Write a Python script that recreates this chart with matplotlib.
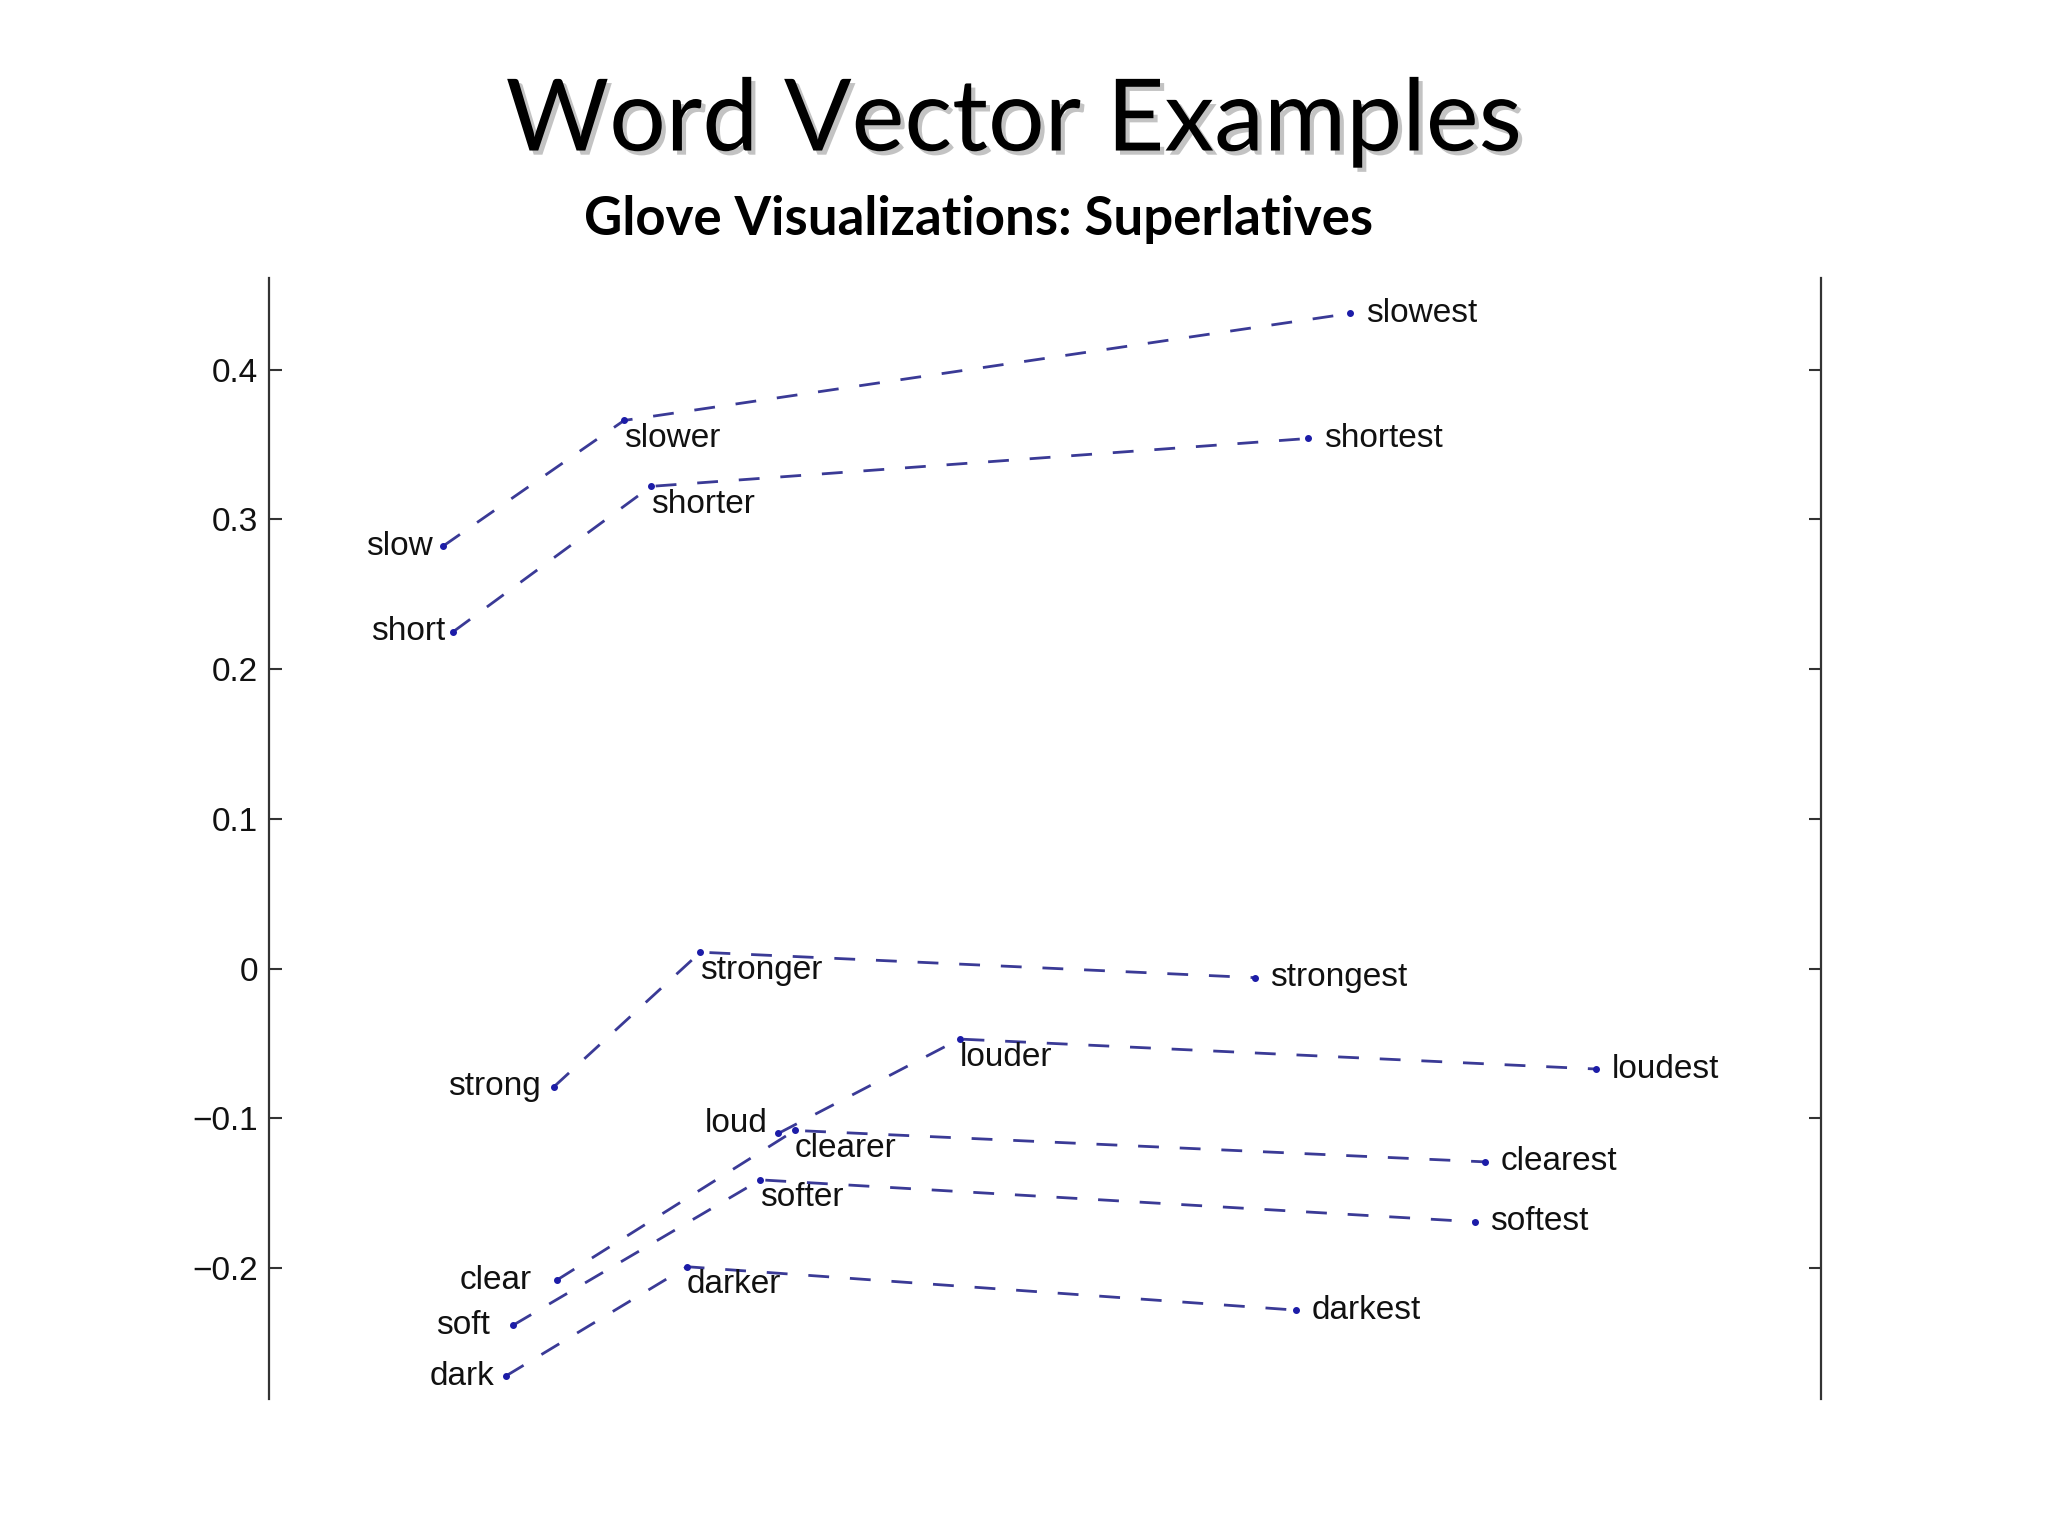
import matplotlib
matplotlib.use("Agg")
import matplotlib.pyplot as plt
import matplotlib.patheffects as pe

# ---- data ----
base_words = ["slow", "short", "strong", "loud", "clear", "soft", "dark"]
comp_words = ["slower", "shorter", "stronger", "louder", "clearer", "softer", "darker"]
sup_words = ["slowest", "shortest", "strongest", "loudest", "clearest", "softest", "darkest"]

base_x = [-0.384, -0.377, -0.310, -0.160, -0.308, -0.337, -0.342]
base_y = [0.282, 0.225, -0.079, -0.110, -0.208, -0.238, -0.272]
comp_x = [-0.263, -0.245, -0.212, -0.039, -0.149, -0.172, -0.221]
comp_y = [0.366, 0.322, 0.011, -0.047, -0.108, -0.141, -0.199]
sup_x = [0.222, 0.194, 0.158, 0.386, 0.312, 0.305, 0.186]
sup_y = [0.4375, 0.354, -0.006, -0.067, -0.129, -0.169, -0.228]

yticks = [-0.2, -0.1, 0, 0.1, 0.2, 0.3, 0.4]
ytick_labels = ["\u22120.2", "\u22120.1", "0", "0.1", "0.2", "0.3", "0.4"]

title = "Word Vector Examples"
subtitle = "Glove Visualizations: Superlatives"

# ---- layout (label offsets in points) ----
base_offsets = {"slow": (-7.5, 0), "short": (-5.5, 0), "strong": (-9, 0),
                "loud": (-8, 7), "clear": (-18, 0), "soft": (-17, 0), "dark": (-8.5, 0)}
comp_offset = (0, -13)
sup_offset = (11, 0)

line_color = "#3a3a96"
dot_color = "#1c1ca8"
label_font = ["Liberation Sans", "DejaVu Sans"]
label_size = 24

fig = plt.figure(figsize=(20.48, 15.36), dpi=100)
fig.patch.set_facecolor("white")
ax = fig.add_axes([0.1314, 0.0893, 0.889 - 0.1314, 0.8189 - 0.0893])

for i in range(len(base_words)):
    xs = [base_x[i], comp_x[i], sup_x[i]]
    ys = [base_y[i], comp_y[i], sup_y[i]]
    ax.plot(xs, ys, color=line_color, lw=2.0, linestyle=(0, (7.5, 7.5)),
            marker="o", markersize=4, markerfacecolor=dot_color,
            markeredgecolor=dot_color, dash_capstyle="butt")
    ax.annotate(base_words[i], (base_x[i], base_y[i]), xytext=base_offsets[base_words[i]],
                textcoords="offset points", ha="right", va="center",
                fontsize=label_size, family=label_font, color="#111111")
    ax.annotate(comp_words[i], (comp_x[i], comp_y[i]), xytext=comp_offset,
                textcoords="offset points", ha="left", va="center",
                fontsize=label_size, family=label_font, color="#111111")
    ax.annotate(sup_words[i], (sup_x[i], sup_y[i]), xytext=sup_offset,
                textcoords="offset points", ha="left", va="center",
                fontsize=label_size, family=label_font, color="#111111")

ax.set_xlim(-0.5, 0.536)
ax.set_ylim(-0.2872, 0.461)
ax.set_yticks(yticks)
ax.set_yticklabels(ytick_labels, family=label_font, fontsize=label_size, color="#111111")
ax.set_xticks([])
ax.tick_params(axis="y", which="both", left=True, right=True, direction="in",
               length=9, width=1.5, pad=8, color="#333333")
for s in ["top", "bottom"]:
    ax.spines[s].set_visible(False)
for s in ["left", "right"]:
    ax.spines[s].set_linewidth(1.6)
    ax.spines[s].set_color("#333333")
ax.set_facecolor("white")

shadow = [pe.SimplePatchShadow(offset=(3, -3), shadow_rgbFace="#888888", alpha=0.5), pe.Normal()]
fig.text(0.495, 0.902, title, ha="center", va="baseline", fontsize=72,
         family=["Lato", "DejaVu Sans"], color="black", path_effects=shadow)
fig.text(0.478, 0.847, subtitle, ha="center", va="baseline", fontsize=38,
         family=["Lato", "DejaVu Sans"], fontweight="bold", color="black")

fig.savefig("out.png", dpi=100, facecolor="white")
